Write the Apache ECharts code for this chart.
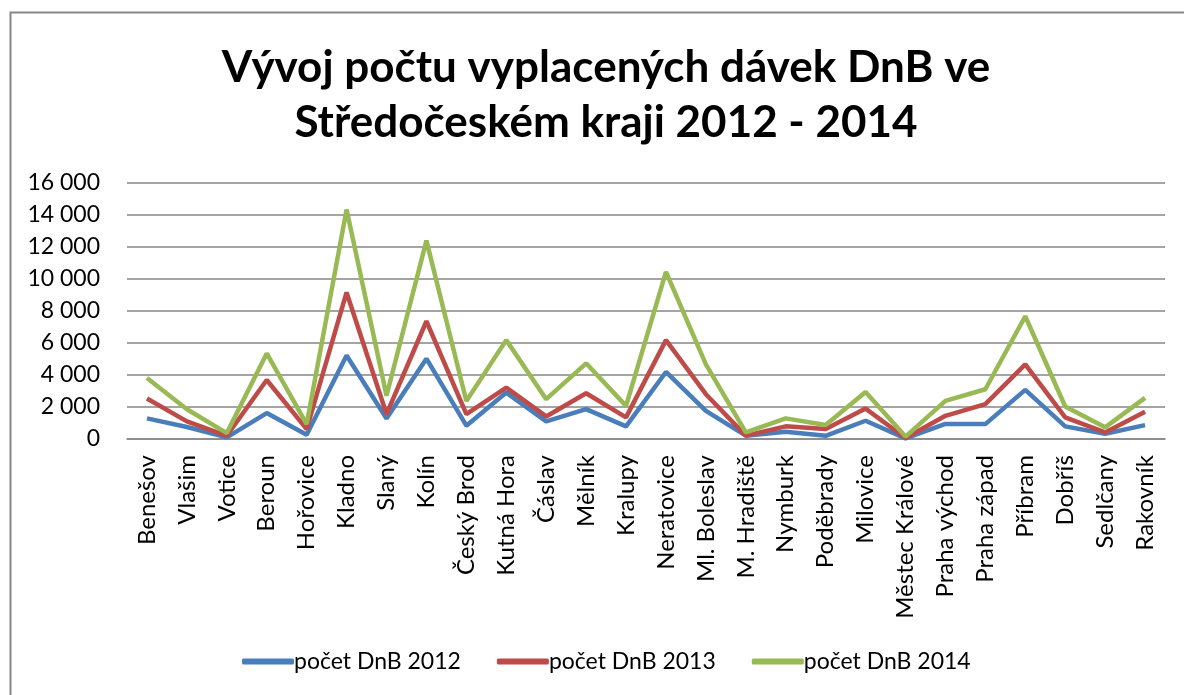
<!DOCTYPE html>
<html>
<head>
<meta charset="utf-8">
<script src="https://cdn.jsdelivr.net/npm/echarts@6/dist/echarts.min.js"></script>
<style>
html,body{margin:0;padding:0;background:#fff;}
#chart{width:1184px;height:695px;}
</style>
</head>
<body>
<div id="chart"></div>
<script>
var categories = ["Benešov","Vlašim","Votice","Beroun","Hořovice","Kladno","Slaný","Kolín","Český Brod","Kutná Hora","Čáslav","Mělník","Kralupy","Neratovice","Ml. Boleslav","M. Hradiště","Nymburk","Poděbrady","Milovice","Městec Králové","Praha východ","Praha západ","Příbram","Dobříš","Sedlčany","Rakovník"];
var dnb2012 = [1290,750,100,1620,270,5220,1280,5020,830,2900,1100,1870,790,4190,1760,210,460,200,1140,40,940,930,3070,790,330,870];
var dnb2013 = [2530,1100,200,3690,620,9160,1560,7360,1560,3210,1410,2860,1350,6180,2800,210,790,620,1900,60,1450,2180,4660,1350,410,1700];
var dnb2014 = [3810,1860,370,5350,930,14340,2700,12400,2380,6180,2490,4730,2070,10450,4660,420,1290,870,2940,150,2380,3110,7670,2030,730,2570];
var seriesNames = ["počet DnB 2012","počet DnB 2013","počet DnB 2014"];
var yTicks = {min:0, max:16000, interval:2000};

var FONT = "Lato";
var chart = echarts.init(document.getElementById('chart'));
function fmt(v){ return String(v).replace(/\B(?=(\d{3})+(?!\d))/g, ' '); }
chart.setOption({
  backgroundColor:'#fff',
  animation:false,
  color:['#4A7EBB','#BE4B48','#98B954'],
  title:{
    text:'Vývoj počtu vyplacených dávek DnB ve\nStředočeském kraji 2012 - 2014',
    left:601, top:35, textAlign:'center',
    textStyle:{fontFamily:FONT, fontWeight:'bold', fontSize:44, color:'#000', lineHeight:55}
  },
  graphic:[{type:'rect', shape:{x:10.5,y:12.5,width:1200,height:720}, style:{fill:'none', stroke:'#878787', lineWidth:2}, silent:true}],
  legend:{
    bottom:17, left:237, itemGap:36, itemWidth:52, itemHeight:6,
    icon:'roundRect',
    textStyle:{fontFamily:FONT, fontSize:23, color:'#000', padding:[0,0,0,-5]},
    data:seriesNames
  },
  grid:{left:127, right:19, top:183, height:256},
  xAxis:{
    type:'category', data:categories, boundaryGap:true,
    axisLine:{lineStyle:{color:'#868686', width:1.5}},
    axisTick:{show:false},
    axisLabel:{rotate:90, interval:0, fontFamily:FONT, fontSize:24, color:'#000', margin:16}
  },
  yAxis:{
    type:'value', min:yTicks.min, max:yTicks.max, interval:yTicks.interval,
    axisLine:{show:false}, axisTick:{show:false},
    splitLine:{lineStyle:{color:'#868686', width:1.5}},
    axisLabel:{fontFamily:FONT, fontSize:23, color:'#000', margin:27, formatter:fmt}
  },
  series:[
    {name:seriesNames[0], type:'line', data:dnb2012, symbol:'none', lineStyle:{width:4.5}},
    {name:seriesNames[1], type:'line', data:dnb2013, symbol:'none', lineStyle:{width:4.5}},
    {name:seriesNames[2], type:'line', data:dnb2014, symbol:'none', lineStyle:{width:4.5}}
  ]
});
</script>
</body>
</html>
